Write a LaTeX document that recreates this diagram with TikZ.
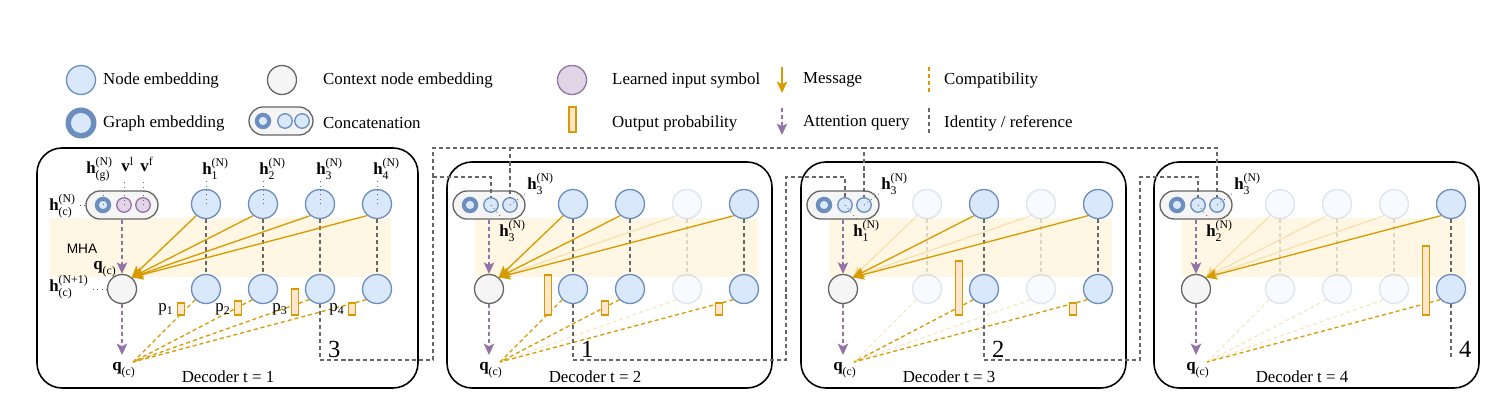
\documentclass[tikz,border=0pt]{standalone}
\usepackage{fontspec}
\usepackage{amsmath}
\setmainfont{Liberation Serif}
\newfontfamily\mhafont{Liberation Sans}
\usetikzlibrary{positioning,arrows.meta}
\definecolor{nodeFill}{HTML}{DAE8FC}
\definecolor{nodeDraw}{HTML}{6C8EBF}
\definecolor{ctxFill}{HTML}{F5F5F5}
\definecolor{ctxDraw}{HTML}{666666}
\definecolor{symFill}{HTML}{E1D5E7}
\definecolor{symDraw}{HTML}{9673A6}
\definecolor{probFill}{HTML}{FFE6CC}
\definecolor{probDraw}{HTML}{D79B00}
\definecolor{bandFill}{HTML}{FFF7E3}
\colorlet{msgColor}{probDraw}
\colorlet{refColor}{ctxDraw}
\tikzset{>={Stealth[length=6.5pt,width=6pt,inset=1.5pt]}}
\tikzset{
  emb/.style={circle,draw=nodeDraw,fill=nodeFill,line width=0.75pt,minimum size=0.58cm,inner sep=0pt},
  ctx/.style={emb,draw=ctxDraw,fill=ctxFill},
  sym/.style={emb,draw=symDraw,fill=symFill},
  pillcirc/.style={minimum size=0.29cm},
  ring/.style={circle,fill=nodeDraw,inner sep=0pt,minimum size=#1,
    path picture={\fill[nodeFill] (path picture bounding box.center) circle (#1/4);}},
  graphemb/.style={ring=0.33cm},
  pill/.style={draw=ctxDraw,fill=ctxFill,line width=0.75pt,rounded corners=0.28cm,minimum width=1.44cm,minimum height=0.56cm,inner sep=0pt},
  prob/.style={draw=probDraw,fill=probFill,line width=0.75pt},
  msg/.style={->,msgColor,line width=0.75pt},
  query/.style={->,symDraw,line width=0.75pt,dash pattern=on 2.3pt off 1.7pt},
  compat/.style={probDraw,line width=0.75pt,dash pattern=on 2.3pt off 1.7pt},
  ref/.style={refColor,line width=0.75pt,dash pattern=on 2.3pt off 1.7pt},
  lbl/.style={refColor,line width=0.5pt,dotted},
  panel/.style={draw=black,line width=0.9pt,rounded corners=0.5cm},
  idx/.style={anchor=west,font=\fontsize{14}{16}\selectfont},
  tag/.style={anchor=base west,inner sep=0pt},
}

\begin{document}
\begin{tikzpicture}[x=0.02cm,y=-0.02cm,font=\fontsize{9.6}{11}\selectfont]
\useasboundingbox (0,0) rectangle (1508,404);
% legend
\node[emb] (lnode) at (81,80) {};
\node[anchor=west] (tnode) at (97,80) {Node embedding};
\node[circle,fill=nodeDraw,inner sep=0pt,minimum size=0.62cm,
  path picture={\fill[nodeFill] (path picture bounding box.center) circle (0.2cm);}] (lgraph) at (81,123) {};
\node[anchor=west] (tgraph) at (97,123) {Graph embedding};
\node[ctx] (lctx) at (282,80) {};
\node[anchor=west] (tctx) at (317,80) {Context node embedding};
\node[pill,minimum width=1.28cm] (lpill) at (281,121) {};
\node[graphemb] (lpg) at (263,121) {};
\node[emb,pillcirc] (lpm) at (285,121) {};
\node[emb,pillcirc] (lpf) at (302,121) {};
\node[anchor=west] (tpill) at (317,123) {Concatenation};
\node[sym] (lsym) at (572,80) {};
\node[anchor=west] (tsym) at (606,80) {Learned input symbol};
\draw[prob] (569,132) rectangle (576,107);
\node[anchor=west] (tprob) at (606,123) {Output probability};
\coordinate (lmsgA) at (782,67);
\coordinate (lmsgB) at (782,93);
\draw[msg] (lmsgA) -- (lmsgB);
\node[anchor=west] (tmsg) at (797,80) {Message};
\coordinate (lqryA) at (782,108);
\coordinate (lqryB) at (782,135);
\draw[query] (lqryA) -- (lqryB);
\node[anchor=west] (tqry) at (797,123) {Attention query};
\coordinate (lcmpA) at (929,67);
\coordinate (lcmpB) at (929,93);
\draw[compat] (lcmpA) -- (lcmpB);
\node[anchor=west] (tcmp) at (938,80) {Compatibility};
\coordinate (lrefA) at (929,108);
\coordinate (lrefB) at (929,135);
\draw[ref] (lrefA) -- (lrefB);
\node[anchor=west] (tref) at (938,123) {Identity / reference};

% decoder steps
\foreach \k/\c/\bl/\bt/\br/\nl/\sd/\sf/\oa/\ob/\oc/\od/\ha/\hb/\hc/\hd in {
  1/122/37/148/418/50/symDraw/symFill/1/1/1/1/12/14/26/12,
  2/489/447/162/772/475/nodeDraw/nodeFill/1/1/0.22/1/40/14/0/12,
  3/843/801/162/1126/829/nodeDraw/nodeFill/0.22/1/0.22/1/0/54/0/12,
  4/1196/1154/162/1479/1182/nodeDraw/nodeFill/0.22/0.22/0.22/1/0/0/0/69}{
  \fill[bandFill] (\nl,218) rectangle (\c+269,277);
  \draw[panel] (\bl,\bt) rectangle (\br,388);
  \node[ctx] (p\k-c) at (\c,289) {};
  \node[pill] (p\k-p) at (\c,205) {};
  \node[graphemb] (p\k-g) at (\c-19,205) {};
  \node[emb,pillcirc,draw=\sd,fill=\sf] (p\k-m) at (\c+2,205) {};
  \node[emb,pillcirc,draw=\sd,fill=\sf] (p\k-f) at (\c+21,205) {};
  \node[tag] (p\k-q) at (\c-10,371) {$\textbf{q}_{\text{(c)}}$};
  \coordinate (p\k-x) at (\c+11,362);
  \draw[query] (p\k-p) -- (p\k-c);
  \draw[query] (p\k-c) -- (\c,355);
  \node (p\k-d) at (\c+106,377) {Decoder t = \k};
  \foreach \i/\o/\h in {1/\oa/\ha,2/\ob/\hb,3/\oc/\hc,4/\od/\hd}{
    \begin{scope}[opacity=\o]
      \node[emb] (p\k-t\i) at (\c+27+57*\i,204) {};
      \node[emb] (p\k-b\i) at (\c+27+57*\i,289) {};
      \draw[ref] (p\k-t\i) -- (p\k-b\i);
      \draw[msg] (p\k-t\i.230) -- (p\k-c.50);
      \draw[compat] (p\k-b\i.225) -- (p\k-x);
    \end{scope}
    \ifnum\h>0 \draw[prob] (\c-1.5+57*\i,315) rectangle (\c+5.5+57*\i,315-\h); \fi
  }
}

% labels of the first step
\node[font=\mhafont\fontsize{7.8}{9}\selectfont] (mha) at (82,249) {MHA};
\node[tag] (lhg) at (86,174) {$\textbf{h}^{\text{(N)}}_{\text{(g)}}$};
\draw[lbl] (p1-g.center) -- ++(0,-17);
\node[tag] (lvl) at (121,172) {$\textbf{v}^{\text{l}}$};
\draw[lbl] (p1-m.center) -- ++(0,-24);
\node[tag] (lvf) at (140,172) {$\textbf{v}^{\text{f}}$};
\draw[lbl] (p1-f.center) -- ++(0,-24);
\node[tag] (lhc) at (49,211) {$\textbf{h}^{\text{(N)}}_{\text{(c)}}$};
\draw[lbl] (p1-p.west) -- ++(-7,0);
\node[tag] (lhc1) at (49,292) {$\textbf{h}^{\text{(N+1)}}_{\text{(c)}}$};
\draw[lbl] (p1-c.west) -- ++(-16,0);
\node[tag] (lq) at (93,270) {$\textbf{q}_{\text{(c)}}$};
\foreach \i in {1,...,4}{
  \node[tag] (lh\i) at (145+57*\i,175) {$\textbf{h}^{\text{(N)}}_{\text{\i}}$};
  \draw[lbl] (p1-t\i.center) -- ++(0,-24);
  \node[tag] (lp\i) at (101+57*\i,312) {p$_{\text{\i}}$};
}

% labels of the later steps
\foreach \k/\c/\j in {2/489/3,3/843/1,4/1196/2}{
  \node[tag] (p\k-lf) at (\c+38,190) {$\textbf{h}^{\text{(N)}}_{\text{3}}$};
  \draw[lbl] (p\k-f.center) -- ++(16,-12);
  \node[tag] (p\k-lm) at (\c+10,237) {$\textbf{h}^{\text{(N)}}_{\text{\j}}$};
  \draw[lbl] (p\k-m.center) -- ++(14,17);
}

% selected nodes fed forward
\draw[ref] (p1-b3) |- (433,360) -- (433,177) -| (p2-m);
\draw[ref] (433,177) -- (433,148) -| (p2-f);
\draw[ref] (510,148) -| (p3-f);
\draw[ref] (863,148) -| (p4-f);
\draw[ref] (p2-b1) |- (786,360) -- (786,177) -| (p3-m);
\draw[ref] (p3-b2) |- (1140,360) -- (1140,177) -| (p4-m);
\draw[ref] (p4-b4) -- (1451,360);
\node[idx] (n3) at (322,349) {3};
\node[idx] (n1) at (575,349) {1};
\node[idx] (n2) at (986,349) {2};
\node[idx] (n4) at (1453,349) {4};
\end{tikzpicture}
\end{document}
